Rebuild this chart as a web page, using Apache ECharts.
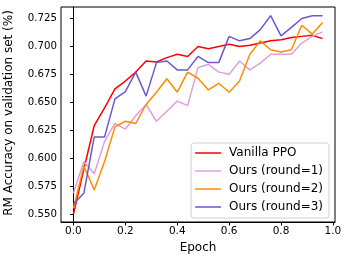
<!DOCTYPE html>
<html>
<head>
<meta charset="utf-8">
<script src="https://cdn.jsdelivr.net/npm/echarts@6/dist/echarts.min.js"></script>
<style>
html,body{margin:0;padding:0;background:#fff;}
#c{width:349px;height:262px;}
</style>
</head>
<body>
<div id="c"></div>
<script>
const epochs = [0.00,0.04,0.08,0.12,0.16,0.20,0.24,0.28,0.32,0.36,0.40,0.44,0.48,0.52,0.56,0.60,0.64,0.68,0.72,0.76,0.80,0.84,0.88,0.92,0.96];
const vanillaPPO = [0.550,0.590,0.629,0.645,0.662,0.669,0.677,0.687,0.686,0.690,0.693,0.691,0.700,0.698,0.700,0.702,0.700,0.701,0.703,0.705,0.706,0.708,0.709,0.710,0.707];
const oursRound1 = [0.5685,0.597,0.586,0.615,0.631,0.626,0.638,0.648,0.633,0.642,0.651,0.647,0.681,0.684,0.677,0.675,0.687,0.679,0.685,0.693,0.693,0.693,0.703,0.709,0.713];
const oursRound2 = [0.555,0.593,0.5715,0.597,0.628,0.633,0.631,0.648,0.659,0.671,0.659,0.677,0.6715,0.661,0.667,0.659,0.669,0.693,0.705,0.697,0.695,0.697,0.719,0.711,0.7215];
const oursRound3 = [0.559,0.5685,0.619,0.619,0.653,0.6595,0.677,0.6555,0.6855,0.687,0.679,0.679,0.691,0.6855,0.6855,0.709,0.705,0.707,0.715,0.7275,0.7095,0.717,0.725,0.7275,0.7275];
const xTicks = [0.0,0.2,0.4,0.6,0.8,1.0];
const yTicks = [0.550,0.575,0.600,0.625,0.650,0.675,0.700,0.725];
const seriesNames = ['Vanilla PPO','Ours (round=1)','Ours (round=2)','Ours (round=3)'];
const seriesColors = ['#ff0000','#dda0dd','#ff8c00','#6a5acd'];

const allData = [vanillaPPO, oursRound1, oursRound2, oursRound3];
const font = 'DejaVu Sans';

const chart = echarts.init(document.getElementById('c'), null, {renderer:'canvas'});
chart.setOption({
  animation:false,
  backgroundColor:'#fff',
  grid:{left:61,right:14,top:7,bottom:40,containLabel:false,
        show:true,borderColor:'#000',borderWidth:1},
  xAxis:{type:'value',min:-0.048,max:1.008,
    axisLine:{show:true,lineStyle:{color:'#000',width:1}},
    axisTick:{show:true,length:3.5,lineStyle:{color:'#000'},customValues:xTicks},
    axisLabel:{customValues:xTicks,color:'#000',fontFamily:font,fontSize:10.5,margin:4,
      formatter:v=>v.toFixed(1)},
    splitLine:{show:false}},
  yAxis:{type:'value',min:0.5428,max:0.7353,
    axisLine:{show:true,lineStyle:{color:'#000',width:1}},
    axisTick:{show:true,length:3.5,lineStyle:{color:'#000'},customValues:yTicks},
    axisLabel:{customValues:yTicks,color:'#000',fontFamily:font,fontSize:10.2,margin:4,
      formatter:v=>v.toFixed(3)},
    splitLine:{show:false}},
  legend:{orient:'vertical',right:20,bottom:44,
    data:seriesNames,
    backgroundColor:'#fff',borderColor:'#d0d0d0',borderWidth:1,borderRadius:3,
    padding:[3,6,4,4],itemWidth:26,itemHeight:14,itemGap:4,
    textStyle:{fontFamily:font,fontSize:12,color:'#000',lineHeight:14,padding:[0,0,0,3]},
    icon:'path://M0,6.3 L26,6.3 L26,7.8 L0,7.8 Z'},
  graphic:[
    {type:'text',x:9,y:113,rotation:Math.PI/2,
      style:{text:'RM Accuracy on validation set (%)',fontFamily:font,fontSize:12,
        fill:'#000',textAlign:'center',textVerticalAlign:'middle'}},
    {type:'text',x:198,y:248,
      style:{text:'Epoch',fontFamily:font,fontSize:12,fill:'#000',
        textAlign:'center',textVerticalAlign:'middle'}}
  ],
  series: allData.map((d,k)=>({
    name:seriesNames[k],type:'line',
    data:epochs.map((e,i)=>[e,d[i]]),
    showSymbol:false,symbol:'none',
    lineStyle:{color:seriesColors[k],width:1.5},
    itemStyle:{color:seriesColors[k]}
  }))
});
</script>
</body>
</html>
